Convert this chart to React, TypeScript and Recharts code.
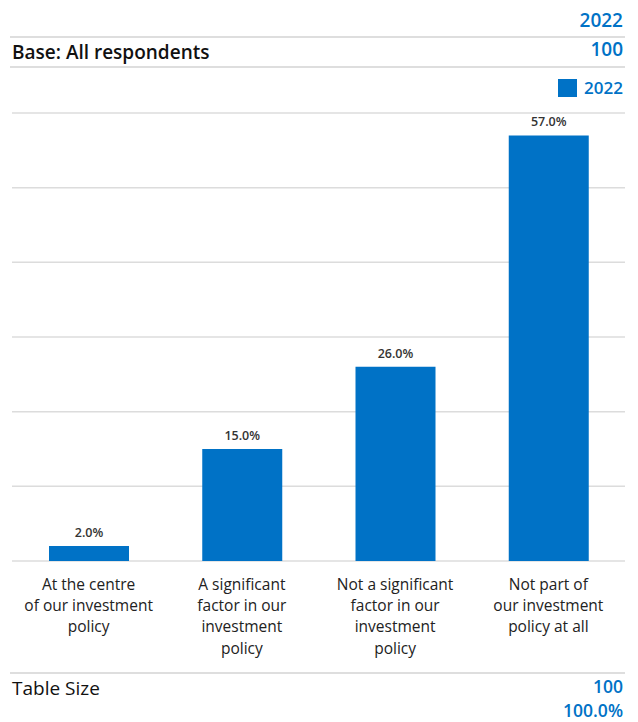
import { BarChart, Bar, XAxis, YAxis, CartesianGrid, LabelList } from "recharts";

const categories = [
  "At the centre|of our investment|policy",
  "A significant|factor in our|investment|policy",
  "Not a significant|factor in our|investment|policy",
  "Not part of|our investment|policy at all",
];
const values2022 = [2.0, 15.0, 26.0, 57.0];
const yTicks = [0, 10, 20, 30, 40, 50, 60];
const seriesName = "2022";
const baseCount = 100;
const tableSize = 100;
const tableTotal = 100.0;

const data = categories.map((c, i) => ({ name: c, v: values2022[i] }));

const BLUE = "#0072c6";
const FONT = "'Open Sans', Lato, sans-serif";

function CategoryTick(props: any) {
  const { x, y, payload } = props;
  const lines = String(payload.value).split("|");
  return (
    <text x={x} y={y + 21} textAnchor="middle" fill="#222" fontSize={15.5} fontFamily={FONT}>
      {lines.map((l: string, i: number) => (
        <tspan key={i} x={x} dy={i === 0 ? 0 : 21.2}>
          {l}
        </tspan>
      ))}
    </text>
  );
}

const rule: React.CSSProperties = {
  position: "absolute",
  left: 10,
  width: 615,
  height: 2,
  background: "#dedede",
};

const txt = (top: number, extra: React.CSSProperties): React.CSSProperties => ({
  position: "absolute",
  top,
  lineHeight: "20px",
  fontSize: 19,
  whiteSpace: "nowrap",
  ...extra,
});

export default function App() {
  return (
    <div
      style={{
        position: "absolute",
        left: 0,
        top: 0,
        width: 638,
        height: 722,
        background: "#fff",
        fontFamily: FONT,
        overflow: "hidden",
      }}
    >
      <div style={txt(10, { right: 15, color: BLUE, fontWeight: 600 })}>{seriesName}</div>
      <div style={{ ...rule, top: 36 }} />
      <div style={txt(42, { left: 12, color: "#111", fontWeight: 600 })}>Base: All respondents</div>
      <div style={txt(39, { right: 15, color: BLUE, fontWeight: 600 })}>{baseCount}</div>
      <div style={{ ...rule, top: 66 }} />

      <div style={{ position: "absolute", right: 15, top: 77, display: "flex", alignItems: "center" }}>
        <span style={{ width: 19, height: 18, background: BLUE, display: "inline-block", marginRight: 7 }} />
        <span style={{ color: BLUE, fontSize: 17, fontWeight: 600, lineHeight: "22px" }}>{seriesName}</span>
      </div>

      <div style={{ position: "absolute", left: 0, top: 0 }}>
        <BarChart
          width={638}
          height={661}
          data={data}
          margin={{ top: 113, right: 13, left: 12, bottom: 0 }}
        >
          <CartesianGrid vertical={false} stroke="#dcdcdc" strokeWidth={1.5} />
          <XAxis
            dataKey="name"
            axisLine={false}
            tickLine={false}
            interval={0}
            height={100}
            tick={<CategoryTick />}
          />
          <YAxis hide domain={[0, 60]} ticks={yTicks} />
          <Bar dataKey="v" name={seriesName} fill={BLUE} barSize={80} isAnimationActive={false}>
            <LabelList
              dataKey="v"
              position="top"
              offset={9}
              formatter={(v: any) => Number(v).toFixed(1) + "%"}
              style={{ fill: "#333", fontSize: 12.5, fontWeight: 600, fontFamily: FONT }}
            />
          </Bar>
        </BarChart>
      </div>

      <div style={{ ...rule, top: 672 }} />
      <div style={txt(678, { left: 12, color: "#111" })}>Table Size</div>
      <div style={txt(676, { right: 15, color: BLUE, fontWeight: 600, fontSize: 17.5 })}>{tableSize}</div>
      <div style={txt(700, { right: 15, color: BLUE, fontWeight: 600, fontSize: 17.5 })}>
        {tableTotal.toFixed(1)}%
      </div>
    </div>
  );
}
